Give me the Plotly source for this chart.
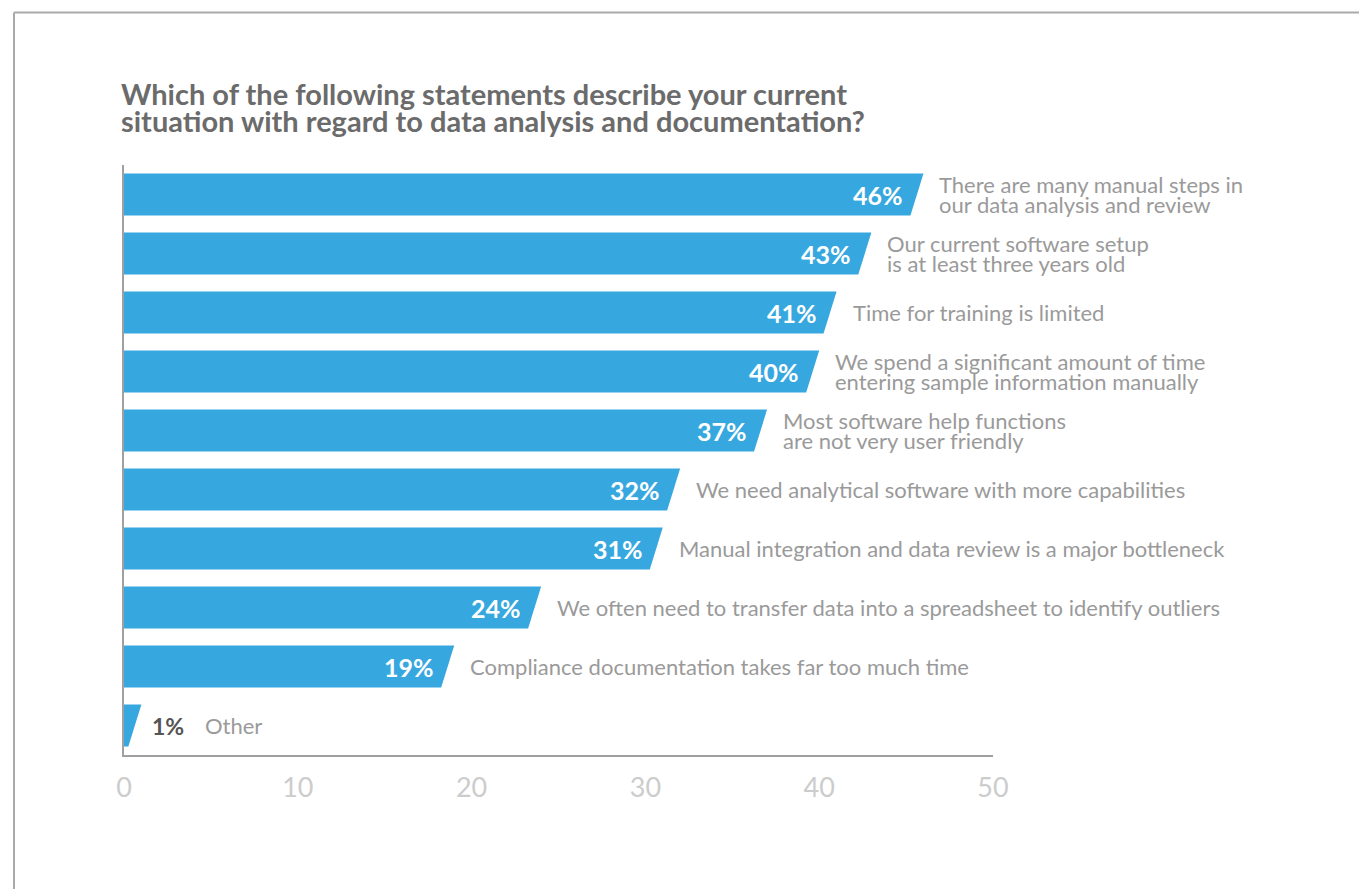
import plotly.graph_objects as go

# ---- data (top to bottom as in the chart) ----
categories = [
    "There are many manual steps in<br>our data analysis and review",
    "Our current software setup<br>is at least three years old",
    "Time for training is limited",
    "We spend a significant amount of time<br>entering sample information manually",
    "Most software help functions<br>are not very user friendly",
    "We need analytical software with more capabilities",
    "Manual integration and data review is a major bottleneck",
    "We often need to transfer data into a spreadsheet to identify outliers",
    "Compliance documentation takes far too much time",
    "Other",
]
values = [46, 43, 41, 40, 37, 32, 31, 24, 19, 1]
tick_values = [0, 10, 20, 30, 40, 50]
title_lines = [
    "Which of the following statements describe your current",
    "situation with regard to data analysis and documentation?",
]

BAR_COLOR = "#37a8df"
FONT = "Lato"
half_h = 0.355      # half bar thickness in category units
slant = 0.75        # slant at the bar end, in axis units

n = len(values)
fig = go.Figure()
annotations = []

for k, (cat, v) in enumerate(zip(categories, values)):
    yc = n - 1 - k
    xs = [0, v, max(v - slant, 0), 0, 0]
    ys = [yc + half_h, yc + half_h, yc - half_h, yc - half_h, yc + half_h]
    fig.add_trace(go.Scatter(x=xs, y=ys, fill="toself", fillcolor=BAR_COLOR,
                             mode="lines", line=dict(width=0, color=BAR_COLOR),
                             hoverinfo="skip", showlegend=False))
    # percentage label
    if v >= 5:
        annotations.append(dict(x=v, y=yc, xref="x", yref="y", text=f"<b>{v}%</b>",
                                showarrow=False, xanchor="right", yanchor="middle",
                                xshift=-18, font=dict(family=FONT, size=25, color="white")))
        cat_shift = 14
    else:
        annotations.append(dict(x=v, y=yc, xref="x", yref="y", text=f"<b>{v}%</b>",
                                showarrow=False, xanchor="left", yanchor="middle",
                                xshift=9, font=dict(family=FONT, size=23, color="#555555")))
        cat_shift = 62
    lines = cat.split("<br>")
    m = len(lines)
    for j, line in enumerate(lines):
        annotations.append(dict(x=v, y=yc, xref="x", yref="y", text=line,
                                showarrow=False, xanchor="left", yanchor="middle",
                                xshift=cat_shift, yshift=(m - 1) * 10 - j * 20,
                                font=dict(family=FONT, size=22, color="#9a9a9a")))

for j, t in enumerate(title_lines):
    annotations.append(dict(x=0, y=1, xref="paper", yref="paper", text=f"<b>{t}</b>",
                            showarrow=False, xanchor="left", yanchor="middle",
                            xshift=-5, yshift=72 - j * 27,
                            font=dict(family=FONT, size=29, color="#6b6b6b")))

shapes = [
    dict(type="line", xref="paper", yref="paper", x0=-0.1266, x1=1.45, y0=1.2585, y1=1.2585,
         line=dict(color="#aaaaaa", width=2)),
    dict(type="line", xref="paper", yref="paper", x0=-0.1266, x1=-0.1266, y0=-0.25, y1=1.2585,
         line=dict(color="#aaaaaa", width=2)),
]

fig.update_layout(
    width=1359, height=881,
    margin=dict(l=116, r=374, t=157, b=134),
    paper_bgcolor="white", plot_bgcolor="white",
    annotations=annotations, shapes=shapes,
    xaxis=dict(range=[0, 50], tickvals=tick_values, showgrid=False, zeroline=False,
               showline=True, linecolor="#a0a0a0", linewidth=2,
               ticks="outside", ticklen=8, tickcolor="rgba(0,0,0,0)",
               tickfont=dict(family=FONT, size=27, color="#cccccc"), fixedrange=True),
    yaxis=dict(range=[-0.5, n - 0.5], showticklabels=False, showgrid=False, zeroline=False,
               showline=True, linecolor="#a0a0a0", linewidth=2, fixedrange=True),
)

fig.write_html("out.html")
